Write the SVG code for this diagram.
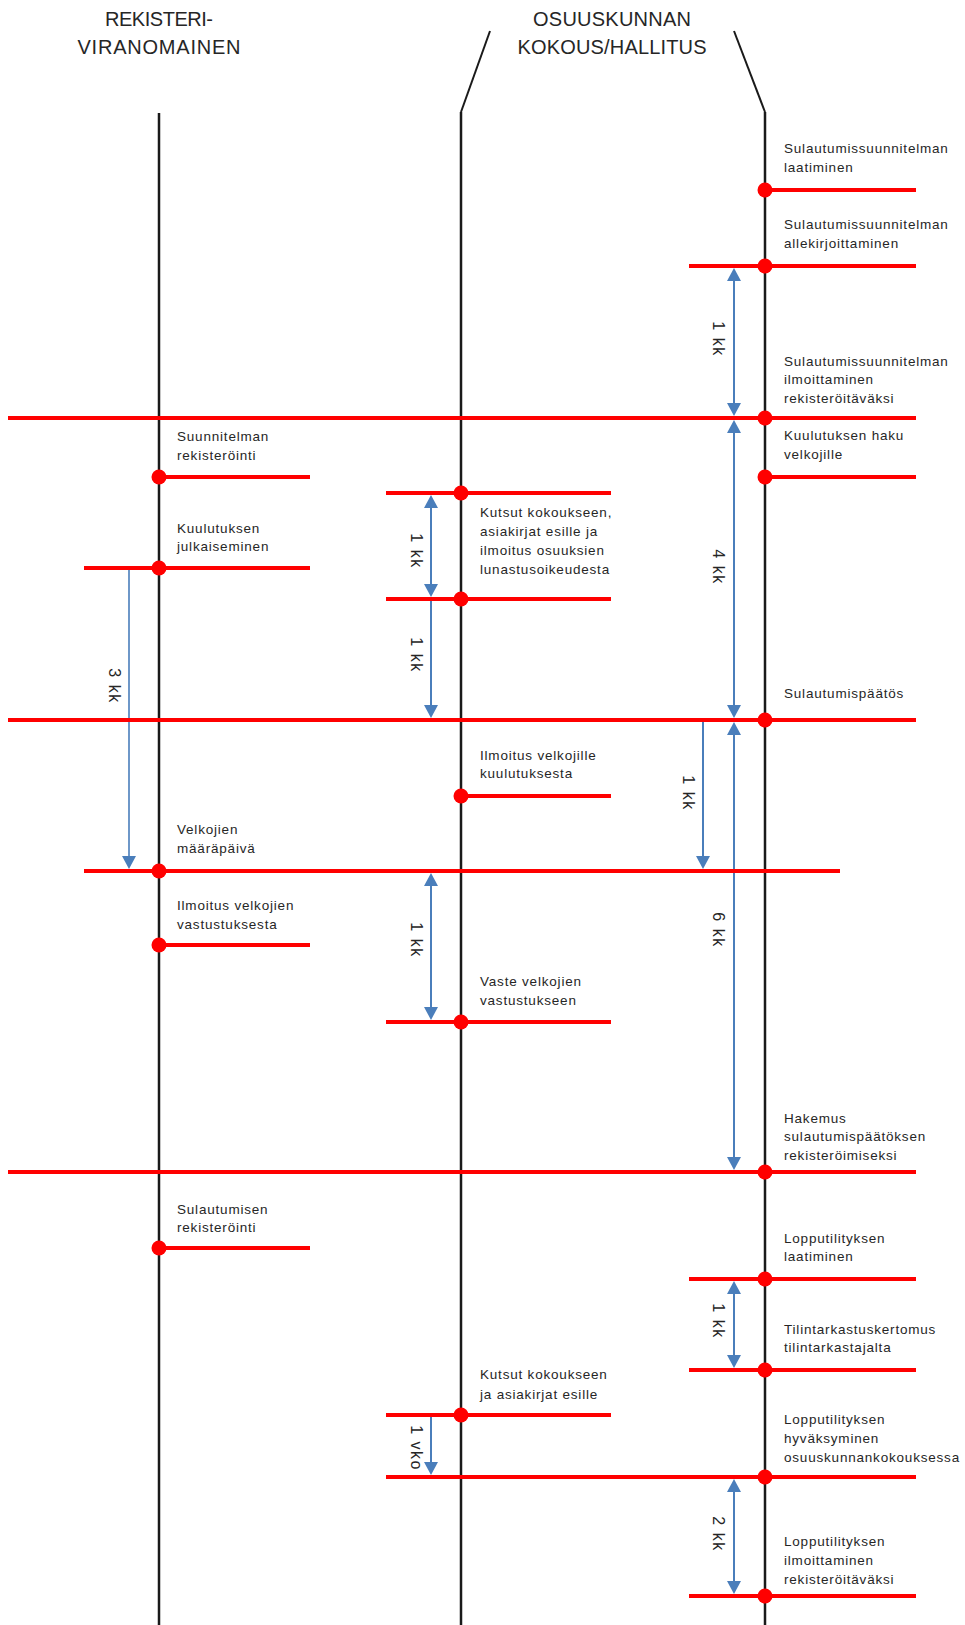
<svg xmlns="http://www.w3.org/2000/svg" width="965" height="1625" viewBox="0 0 965 1625">
<style>
.lane{stroke:#1a1a1a;stroke-width:2.5;fill:none}
.slant{stroke:#1a1a1a;stroke-width:2;fill:none}
.ev{stroke:#ff0000;stroke-width:4;fill:none}
.dot{fill:#ff0000}
.lbl{font-family:"Liberation Sans",Arial,sans-serif;font-size:13.5px;letter-spacing:0.8px;fill:#262626}
.title{font-family:"Liberation Sans",Arial,sans-serif;font-size:20px;fill:#262626;text-anchor:middle}
.arr{stroke:#4a7ebb;stroke-width:2;fill:none}
.dur{font-family:"Liberation Sans",Arial,sans-serif;font-size:16px;letter-spacing:1.5px;fill:#262626;text-anchor:middle}
</style>
<defs>
<marker id="ah" viewBox="0 0 13 14" refX="10" refY="7" markerWidth="13" markerHeight="14" markerUnits="userSpaceOnUse" orient="auto-start-reverse">
<path d="M0,0 L13,7 L0,14 z" fill="#4a7ebb"/>
</marker>
</defs>
<rect width="965" height="1625" fill="#ffffff"/>

<g id="lane-rekisteri">
<text class="title" x="159" y="26" textLength="108">REKISTERI-</text>
<text class="title" x="159" y="54" textLength="163">VIRANOMAINEN</text>
<line class="lane" x1="159" y1="113" x2="159" y2="1625"/>
</g>
<g id="lane-osuuskunta">
<text class="title" x="612" y="26" textLength="158">OSUUSKUNNAN</text>
<text class="title" x="612" y="54" textLength="189">KOKOUS/HALLITUS</text>
<polyline class="slant" points="490,31 461,112"/>
<polyline class="slant" points="734,31 765,112"/>
<line class="lane" x1="461" y1="112" x2="461" y2="1625"/>
<line class="lane" x1="765" y1="112" x2="765" y2="1625"/>
</g>

<g id="connectors">
<g id="a1"><line class="arr" x1="734" y1="271" x2="734" y2="413" marker-start="url(#ah)" marker-end="url(#ah)"/><text class="dur" transform="translate(718,339) rotate(90)" y="5.5">1 kk</text></g>
<g id="a2"><line class="arr" x1="734" y1="423" x2="734" y2="715" marker-start="url(#ah)" marker-end="url(#ah)"/><text class="dur" transform="translate(718,567) rotate(90)" y="5.5">4 kk</text></g>
<g id="a3"><line class="arr" x1="734" y1="725" x2="734" y2="1167" marker-start="url(#ah)" marker-end="url(#ah)"/><text class="dur" transform="translate(718,930) rotate(90)" y="5.5">6 kk</text></g>
<g id="a4"><line class="arr" x1="703" y1="720" x2="703" y2="866" marker-end="url(#ah)"/><text class="dur" transform="translate(688,793) rotate(90)" y="5.5">1 kk</text></g>
<g id="a5"><line class="arr" x1="431" y1="498" x2="431" y2="594" marker-start="url(#ah)" marker-end="url(#ah)"/><text class="dur" transform="translate(416,551) rotate(90)" y="5.5">1 kk</text></g>
<g id="a6"><line class="arr" x1="431" y1="599" x2="431" y2="715" marker-end="url(#ah)"/><text class="dur" transform="translate(416,655) rotate(90)" y="5.5">1 kk</text></g>
<g id="a7"><line class="arr" x1="129" y1="568" x2="129" y2="866" style="stroke-width:1.6" marker-end="url(#ah)"/><text class="dur" transform="translate(114,686) rotate(90)" y="5.5">3 kk</text></g>
<g id="a8"><line class="arr" x1="431" y1="876" x2="431" y2="1017" marker-start="url(#ah)" marker-end="url(#ah)"/><text class="dur" transform="translate(416,940) rotate(90)" y="5.5">1 kk</text></g>
<g id="a9"><line class="arr" x1="734" y1="1284" x2="734" y2="1365" marker-start="url(#ah)" marker-end="url(#ah)"/><text class="dur" transform="translate(718,1321) rotate(90)" y="5.5">1 kk</text></g>
<g id="a10"><line class="arr" x1="431" y1="1415" x2="431" y2="1472" marker-end="url(#ah)"/><text class="dur" transform="translate(416,1448) rotate(90)" y="5.5">1 vko</text></g>
<g id="a11"><line class="arr" x1="734" y1="1482" x2="734" y2="1591" marker-start="url(#ah)" marker-end="url(#ah)"/><text class="dur" transform="translate(718,1534) rotate(90)" y="5.5">2 kk</text></g>
</g>

<!-- Right lane events -->
<g id="e1"><line class="ev" x1="765" y1="190" x2="916" y2="190"/><circle class="dot" cx="765" cy="190" r="7.5"/>
<text class="lbl" x="784" y="153">Sulautumissuunnitelman</text><text class="lbl" x="784" y="172">laatiminen</text></g>
<g id="e2"><line class="ev" x1="689" y1="266" x2="916" y2="266"/><circle class="dot" cx="765" cy="266" r="7.5"/>
<text class="lbl" x="784" y="229">Sulautumissuunnitelman</text><text class="lbl" x="784" y="248">allekirjoittaminen</text></g>
<g id="e3"><line class="ev" x1="8" y1="418" x2="916" y2="418"/><circle class="dot" cx="765" cy="418" r="7.5"/>
<text class="lbl" x="784" y="366">Sulautumissuunnitelman</text><text class="lbl" x="784" y="384">ilmoittaminen</text><text class="lbl" x="784" y="403">rekisteröitäväksi</text></g>
<g id="e4"><line class="ev" x1="765" y1="477" x2="916" y2="477"/><circle class="dot" cx="765" cy="477" r="7.5"/>
<text class="lbl" x="784" y="440">Kuulutuksen haku</text><text class="lbl" x="784" y="459">velkojille</text></g>
<g id="e5"><line class="ev" x1="8" y1="720" x2="916" y2="720"/><circle class="dot" cx="765" cy="720" r="7.5"/>
<text class="lbl" x="784" y="698">Sulautumispäätös</text></g>
<g id="e6"><line class="ev" x1="8" y1="1172" x2="916" y2="1172"/><circle class="dot" cx="765" cy="1172" r="7.5"/>
<text class="lbl" x="784" y="1123">Hakemus</text><text class="lbl" x="784" y="1141">sulautumispäätöksen</text><text class="lbl" x="784" y="1160">rekisteröimiseksi</text></g>
<g id="e7"><line class="ev" x1="689" y1="1279" x2="916" y2="1279"/><circle class="dot" cx="765" cy="1279" r="7.5"/>
<text class="lbl" x="784" y="1243">Lopputilityksen</text><text class="lbl" x="784" y="1261">laatiminen</text></g>
<g id="e8"><line class="ev" x1="689" y1="1370" x2="916" y2="1370"/><circle class="dot" cx="765" cy="1370" r="7.5"/>
<text class="lbl" x="784" y="1334">Tilintarkastuskertomus</text><text class="lbl" x="784" y="1352">tilintarkastajalta</text></g>
<g id="e9"><line class="ev" x1="386" y1="1477" x2="916" y2="1477"/><circle class="dot" cx="765" cy="1477" r="7.5"/>
<text class="lbl" x="784" y="1424">Lopputilityksen</text><text class="lbl" x="784" y="1443">hyväksyminen</text><text class="lbl" x="784" y="1462">osuuskunnankokouksessa</text></g>
<g id="e10"><line class="ev" x1="689" y1="1596" x2="916" y2="1596"/><circle class="dot" cx="765" cy="1596" r="7.5"/>
<text class="lbl" x="784" y="1546">Lopputilityksen</text><text class="lbl" x="784" y="1565">ilmoittaminen</text><text class="lbl" x="784" y="1584">rekisteröitäväksi</text></g>

<!-- Middle lane events -->
<g id="m1"><line class="ev" x1="386" y1="493" x2="611" y2="493"/><circle class="dot" cx="461" cy="493" r="7.5"/>
<text class="lbl" x="480" y="517">Kutsut kokoukseen,</text><text class="lbl" x="480" y="536">asiakirjat esille ja</text><text class="lbl" x="480" y="555">ilmoitus osuuksien</text><text class="lbl" x="480" y="574">lunastusoikeudesta</text></g>
<g id="m2"><line class="ev" x1="386" y1="599" x2="611" y2="599"/><circle class="dot" cx="461" cy="599" r="7.5"/></g>
<g id="m3"><line class="ev" x1="461" y1="796" x2="611" y2="796"/><circle class="dot" cx="461" cy="796" r="7.5"/>
<text class="lbl" x="480" y="760">Ilmoitus velkojille</text><text class="lbl" x="480" y="778">kuulutuksesta</text></g>
<g id="m4"><line class="ev" x1="386" y1="1022" x2="611" y2="1022"/><circle class="dot" cx="461" cy="1022" r="7.5"/>
<text class="lbl" x="480" y="986">Vaste velkojien</text><text class="lbl" x="480" y="1005">vastustukseen</text></g>
<g id="m5"><line class="ev" x1="386" y1="1415" x2="611" y2="1415"/><circle class="dot" cx="461" cy="1415" r="7.5"/>
<text class="lbl" x="480" y="1379">Kutsut kokoukseen</text><text class="lbl" x="480" y="1399">ja asiakirjat esille</text></g>

<!-- Left lane events -->
<g id="l1"><line class="ev" x1="159" y1="477" x2="310" y2="477"/><circle class="dot" cx="159" cy="477" r="7.5"/>
<text class="lbl" x="177" y="441">Suunnitelman</text><text class="lbl" x="177" y="460">rekisteröinti</text></g>
<g id="l2"><line class="ev" x1="84" y1="568" x2="310" y2="568"/><circle class="dot" cx="159" cy="568" r="7.5"/>
<text class="lbl" x="177" y="533">Kuulutuksen</text><text class="lbl" x="177" y="551">julkaiseminen</text></g>
<g id="l3"><line class="ev" x1="84" y1="871" x2="840" y2="871"/><circle class="dot" cx="159" cy="871" r="7.5"/>
<text class="lbl" x="177" y="834">Velkojien</text><text class="lbl" x="177" y="853">määräpäivä</text></g>
<g id="l4"><line class="ev" x1="159" y1="945" x2="310" y2="945"/><circle class="dot" cx="159" cy="945" r="7.5"/>
<text class="lbl" x="177" y="910">Ilmoitus velkojien</text><text class="lbl" x="177" y="929">vastustuksesta</text></g>
<g id="l5"><line class="ev" x1="159" y1="1248" x2="310" y2="1248"/><circle class="dot" cx="159" cy="1248" r="7.5"/>
<text class="lbl" x="177" y="1214">Sulautumisen</text><text class="lbl" x="177" y="1232">rekisteröinti</text></g>
</svg>
